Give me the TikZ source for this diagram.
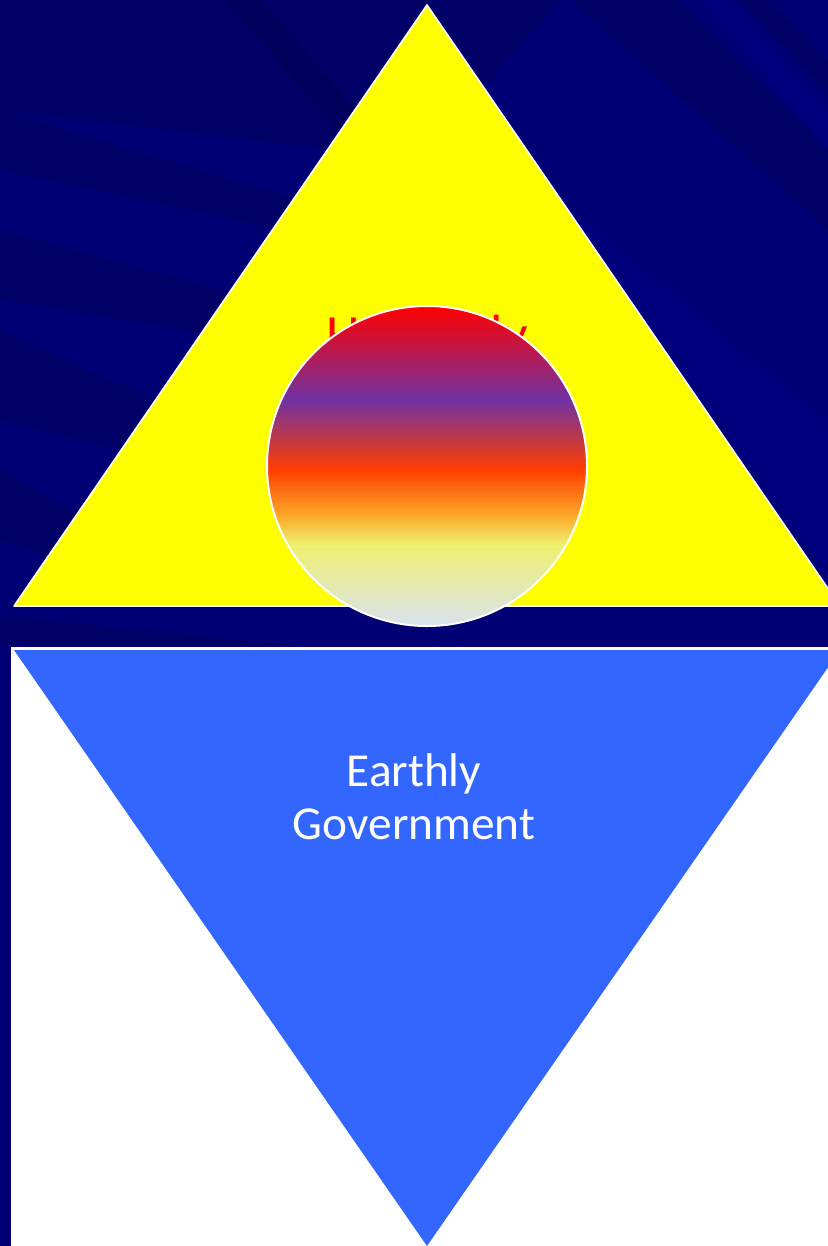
\documentclass[tikz,border=0pt]{standalone}
\usepackage{fontspec}
\setmainfont{Carlito}
\usetikzlibrary{calc}
\definecolor{ColNavy}{RGB}{0,0,116}
\definecolor{ColDeep}{RGB}{0,0,72}
\definecolor{ColGlow}{RGB}{0,0,140}
\definecolor{ColSun}{RGB}{255,255,0}
\definecolor{ColSea}{RGB}{51,102,255}
\definecolor{ColRed}{RGB}{255,0,0}
\definecolor{ColPlum}{RGB}{112,50,162}
\definecolor{ColFire}{RGB}{255,62,0}
\definecolor{ColAmber}{RGB}{252,168,40}
\definecolor{ColLemon}{RGB}{238,240,110}
\definecolor{ColMist}{RGB}{218,226,240}
\pgfdeclareverticalshading{heavenshade}{100bp}{%
  color(0bp)=(ColMist); color(25bp)=(ColMist); color(37.7bp)=(ColLemon);
  color(42.3bp)=(ColAmber); color(49.4bp)=(ColFire); color(60.3bp)=(ColPlum);
  color(75bp)=(ColRed); color(100bp)=(ColRed)}

\begin{document}
\begin{tikzpicture}[
  x=1bp, y=-1bp,
  line join=round,
  every node/.style={align=center},
  streak/.style={fill=ColDeep, opacity=0.3},
  glow/.style={fill=ColGlow, opacity=0.4}
]
  \useasboundingbox (0,0) rectangle (828,1246);
  \fill[ColNavy] (0,0) rectangle (828,1246);

  % Diagonal streaks of the backdrop
  \begin{scope}
    \clip (0,0) rectangle (828,646);
    \fill[streak] (0,0) -- (560,0) -- (420,160) -- (0,110) -- cycle;
    \fill[streak] (0,110) -- (300,200) -- (330,240) -- (0,170) -- cycle;
    \fill[streak] (0,230) -- (260,300) -- (250,340) -- (0,300) -- cycle;
    \fill[streak] (0,330) -- (200,420) -- (160,460) -- (0,420) -- cycle;
    \fill[streak] (0,470) -- (90,520) -- (60,560) -- (0,540) -- cycle;
    \fill[streak] (225,0) -- (262,0) -- (380,140) -- (345,140) -- cycle;
    \fill[streak] (570,0) -- (700,0) -- (828,150) -- (828,230) -- cycle;
    \fill[streak] (740,0) -- (770,0) -- (828,60) -- (828,95) -- cycle;
    \fill[glow] (680,0) -- (730,0) -- (828,110) -- (828,150) -- cycle;
    \fill[glow] (560,200) -- (828,420) -- (828,580) -- cycle;
    \fill[streak] (0,615) -- (300,646) -- (0,646) -- cycle;
  \end{scope}

  % Lower panel
  \fill[white] (11,647) rectangle (828,1246);

  % Named corners
  \coordinate (peak)  at (427,5);
  \coordinate (baseL) at (14,606);
  \coordinate (baseR) at (840,606);
  \coordinate (topL)  at (14,650);
  \coordinate (topR)  at (840,650);
  \coordinate (foot)  at (427,1246);

  % Heavenly triangle
  \begin{scope}
    \clip (0,0) rectangle (828,1246);
    \filldraw[fill=ColSun, draw=white, line width=1.6bp] (peak) -- (baseL) -- (baseR) -- cycle;
    \fill[ColSea] (topL) -- (topR) -- (foot) -- cycle;
  \end{scope}

  % Labels
  \node[text=ColRed, anchor=base, font=\fontsize{54}{60}\selectfont]
    (heaven) at (427,352) {Heavenly};
  \node[text=white, font=\fontsize{47.5}{53}\selectfont]
    (earth) at (414,797) {Earthly\\Government};

  % Sphere
  \node[circle, minimum size=320bp, inner sep=0pt, shading=heavenshade,
        draw=white, line width=2bp] (sphere) at (427,466) {};
\end{tikzpicture}
\end{document}
